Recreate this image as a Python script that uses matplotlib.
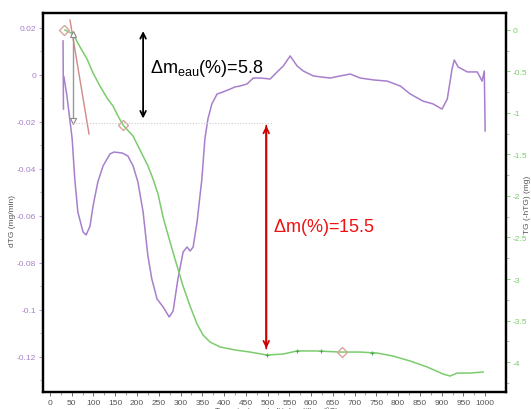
import numpy as np
import matplotlib
matplotlib.use("Agg")
import matplotlib.pyplot as plt

plt.rcParams['font.family'] = ['Liberation Sans', 'DejaVu Sans']
plt.rcParams['mathtext.fontset'] = 'custom'
plt.rcParams['mathtext.rm'] = 'Liberation Sans'

# dTG (mg/min), courbe violette
T_dtg = [32, 39, 51, 57, 64, 76, 83, 92, 99, 110, 122, 138, 147, 166, 179, 191, 202, 214,
         225, 234, 246, 260, 274, 283, 294, 306, 315, 322, 329, 338, 349, 356, 363, 372,
         384, 398, 414, 425, 437, 453, 467, 483, 506, 522, 536, 552, 568, 582, 605, 621,
         644, 667, 690, 713, 743, 775, 805, 828, 857, 880, 901, 913, 924, 929, 938, 959,
         982, 993, 998, 1000]
dtg = [-0.0008, -0.0089, -0.0272, -0.0443, -0.0583, -0.0668, -0.0681, -0.0643, -0.0557,
       -0.0455, -0.0387, -0.0336, -0.0328, -0.0332, -0.0345, -0.0387, -0.0455, -0.0583,
       -0.0770, -0.0868, -0.0953, -0.0987, -0.1030, -0.1004, -0.0868, -0.0753, -0.0732,
       -0.0749, -0.0732, -0.0625, -0.0443, -0.0272, -0.0187, -0.0123, -0.0081, -0.0072,
       -0.0060, -0.0051, -0.0047, -0.0038, -0.0013, -0.0013, -0.0017, 0.0013, 0.0038,
       0.0081, 0.0038, 0.0017, -0.0004, -0.0008, -0.0013, -0.0004, 0.0004, -0.0013,
       -0.0021, -0.0026, -0.0047, -0.0081, -0.0111, -0.0123, -0.0145, -0.0102, 0.0026,
       0.0064, 0.0034, 0.0013, 0.0013, -0.0026, 0.0017, -0.0238]
T_pre = [30, 31]           # petit segment isolé au départ
dtg_pre = [0.0145, -0.0145]

# TG (mg), courbe verte
T_tg = [34.5, 52.9, 69.0, 85.1, 98.9, 114.9, 131.0, 144.8, 156.3, 167.8, 190.8, 213.8,
        225.3, 236.8, 248.3, 259.8, 275.9, 292.0, 305.7, 321.8, 337.9, 351.7, 367.8,
        390.8, 425.3, 459.8, 498.9, 535.6, 567.8, 613.8, 666.7, 712.6, 751.7, 788.5,
        827.6, 866.7, 903.4, 919.5, 935.6, 965.5, 995.4]
tg = [0.0, -0.048, -0.205, -0.349, -0.518, -0.675, -0.819, -0.916, -1.036, -1.145, -1.277,
      -1.518, -1.639, -1.795, -1.976, -2.253, -2.554, -2.843, -3.084, -3.325, -3.542,
      -3.675, -3.759, -3.819, -3.855, -3.880, -3.916, -3.904, -3.867, -3.867, -3.880,
      -3.880, -3.892, -3.928, -3.988, -4.060, -4.145, -4.169, -4.133, -4.133, -4.120]
T_marks = [498.9, 567.8, 622, 740]
tg_marks = [-3.916, -3.867, -3.867, -3.89]
T_diam = [32, 167.8, 671]
tg_diam = [0.0, -1.145, -3.88]

T_tang = [46, 89.7]
tg_tang = [0.12, -1.253]

purple = '#a77fcc'
green = '#7acc6c'

fig = plt.figure(figsize=(5.31, 4.10), dpi=100)
ax = fig.add_axes([0.081, 0.0415, 0.872, 0.9245])
ax2 = ax.twinx()

ax.plot(T_dtg, dtg, color=purple, lw=1.1)
ax.plot(T_pre, dtg_pre, color=purple, lw=1.1)

ax2.plot(T_tg, tg, color=green, lw=1.1)
ax2.plot(T_marks, tg_marks, ls='none', marker='+', ms=3, color='#55aa55', mew=0.8)
ax2.plot(T_tang, tg_tang, color='#d08a86', lw=1.0)
ax2.plot(T_diam, tg_diam, ls='none', marker='D', ms=5, mfc='none', mec='#d9a49c', mew=1.0)

# flèche grise de la tangente
ax2.plot([53, 53], [-0.03, -1.10], color='#999999', lw=1.0)
ax2.plot([53], [-1.10], marker='v', ms=5, mfc='white', mec='#888888', mew=0.8)
ax2.plot([53], [-0.05], marker='^', ms=4, mfc='white', mec='#888888', mew=0.8)

# ligne pointillée horizontale
ax2.plot([53, 510], [-1.125, -1.125], color='#cccccc', lw=0.8, ls=(0, (1, 1.5)))

# flèches et textes
ax2.annotate('', xy=(214, -1.10), xytext=(214, 0.02),
             arrowprops=dict(arrowstyle='<->', color='black', lw=1.3))
ax2.text(230, -0.45, r'$\Delta$m$_{\mathrm{eau}}$(%)=5.8', fontsize=13, va='center', ha='left')
ax2.annotate('', xy=(497, -3.87), xytext=(497, -1.12),
             arrowprops=dict(arrowstyle='->', color='#cc0000', lw=1.3))
ax2.annotate('', xy=(497, -1.12), xytext=(497, -3.87),
             arrowprops=dict(arrowstyle='->', color='#cc0000', lw=1.3))
ax2.text(513, -2.37, r'$\Delta$m(%)=15.5', fontsize=13, va='center', ha='left', color='#ee1111')

ax.set_xlim(-16, 1048)
ax.set_ylim(-0.1349, 0.0264)
ax2.set_ylim(-4.361, 0.205)

ax.set_xticks(np.arange(0, 1001, 50))
ax.set_xticks(np.arange(25, 1001, 50), minor=True)
ax.set_yticks([0.02, 0, -0.02, -0.04, -0.06, -0.08, -0.1, -0.12])
ax.set_yticklabels(['0.02', '0', '-0.02', '-0.04', '-0.06', '-0.08', '-0.1', '-0.12'])
ax.set_yticks(np.arange(-0.13, 0.025, 0.01), minor=True)
ax2.set_yticks([0, -0.5, -1, -1.5, -2, -2.5, -3, -3.5, -4])
ax2.set_yticklabels(['0', '-0.5', '-1', '-1.5', '-2', '-2.5', '-3', '-3.5', '-4'])
ax2.set_yticks(np.arange(-4.25, 0.2, 0.25), minor=True)

ax.tick_params(axis='x', labelsize=6, colors='#555555', length=3, width=0.6, pad=2)
ax.tick_params(axis='x', which='minor', length=2, width=0.5, color='#777777')
ax.tick_params(axis='y', labelsize=6, colors=purple, length=3, width=0.6, pad=2)
ax.tick_params(axis='y', which='minor', length=2, width=0.5, color='#999999')
ax2.tick_params(axis='y', labelsize=6, colors=green, length=3, width=0.6, pad=2)
ax2.tick_params(axis='y', which='minor', length=2, width=0.5, color='#999999')

for a in (ax, ax2):
    for s in a.spines.values():
        s.set_linewidth(1.6)
        s.set_color('black')

fig.text(0.024, 0.46, 'dTG (mg/min)', rotation=90, fontsize=6, color='#555555', ha='center', va='center')
fig.text(0.993, 0.5, 'TG (-hTG) (mg)', rotation=90, fontsize=6, color='#555555', ha='center', va='center')
fig.text(0.52, 0.006, "Température de l'échantillon (°C)", fontsize=6, color='#555555', ha='center', va='top')

fig.savefig('out.png', dpi=100)
